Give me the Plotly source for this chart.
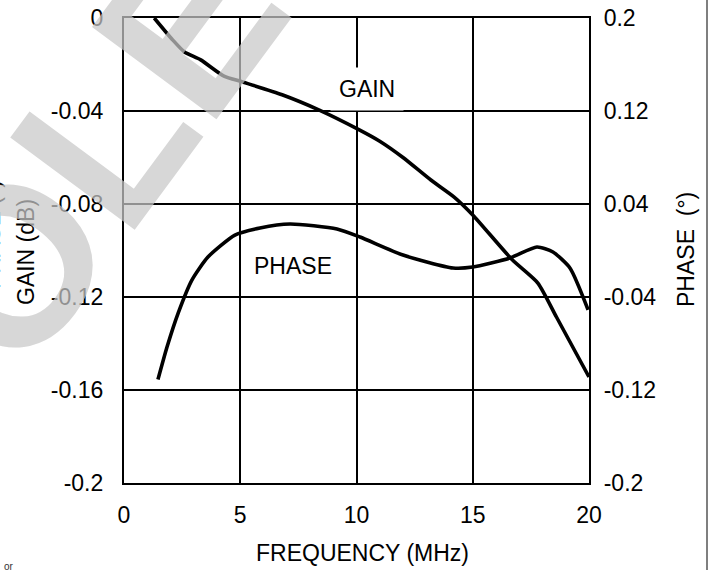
import plotly.graph_objects as go

# ---- data ----
freq_gain = [1.3, 2.1, 2.6, 3.3, 4.3, 5.1, 6.8, 8.4, 10.1, 11.0, 12.0, 13.2, 14.2, 15.0, 16.7, 17.8, 18.6, 20.0]
gain_db = [0.0, -0.0095, -0.0146, -0.018, -0.025, -0.0275, -0.033, -0.0396, -0.048, -0.053, -0.060,
           -0.0697, -0.077, -0.0847, -0.104, -0.114, -0.1286, -0.1544]

freq_phase = [1.46, 1.85, 2.33, 2.92, 3.61, 4.77, 5.85, 7.14, 9.16, 10.15, 12.0, 14.15, 15.0, 16.6,
              17.76, 18.45, 19.18, 19.96]
phase_deg = [-0.111, -0.083, -0.0538, -0.0254, -0.0056, 0.0133, 0.0194, 0.0228, 0.0185, 0.0116, -0.0039,
             -0.015, -0.0142, -0.0065, 0.003, -0.0013, -0.015, -0.051]

x_ticks = [0, 5, 10, 15, 20]
gain_ticks = [0, -0.04, -0.08, -0.12, -0.16, -0.2]
gain_tick_text = ["0", "-0.04", "-0.08", "-0.12", "-0.16", "-0.2"]
phase_ticks = [0.2, 0.12, 0.04, -0.04, -0.12, -0.2]
phase_tick_text = ["0.2", "0.12", "0.04", "-0.04", "-0.12", "-0.2"]

FONT = "Liberation Sans, Arial, sans-serif"
FS = 23

# plot area in pixels
L, R, T, B = 124, 589, 18, 483
W, H = 708, 570


def px(xp):
    return (xp - L) / (R - L)


def py(yp):
    return (B - yp) / (B - T)


fig = go.Figure()
fig.add_trace(go.Scatter(x=freq_gain, y=gain_db, mode="lines",
                         line=dict(color="black", width=3.6, shape="spline", smoothing=0.6),
                         showlegend=False, hoverinfo="skip"))
fig.add_trace(go.Scatter(x=freq_phase, y=phase_deg, mode="lines", yaxis="y2",
                         line=dict(color="black", width=3.6, shape="spline", smoothing=0.6),
                         showlegend=False, hoverinfo="skip"))

axis_common = dict(showline=True, linecolor="black", linewidth=2.2, zeroline=False, automargin=False,
                   tickfont=dict(family=FONT, size=FS, color="black"))

fig.update_layout(
    width=W, height=H,
    margin=dict(l=L, r=W - R, t=T, b=H - B, pad=0, autoexpand=False),
    paper_bgcolor="white", plot_bgcolor="white",
    font=dict(family=FONT, size=FS, color="black"),
    xaxis=dict(range=[0, 20], tickvals=x_ticks, ticktext=[str(v) for v in x_ticks],
               showgrid=True, gridcolor="black", gridwidth=1.8, mirror=True,
               ticks="", ticklabelstandoff=10, **axis_common),
    yaxis=dict(range=[-0.2, 0], tickvals=gain_ticks, ticktext=gain_tick_text,
               showgrid=True, gridcolor="black", gridwidth=1.8, mirror=True,
               ticks="", ticklabelstandoff=14, **axis_common),
    yaxis2=dict(range=[-0.2, 0.2], tickvals=phase_ticks, ticktext=phase_tick_text,
                overlaying="y", side="right", showgrid=False,
                ticks="", ticklabelstandoff=8, **axis_common),
)

ann = []
# axis titles
ann.append(dict(text="FREQUENCY (MHz)", xref="paper", yref="paper", x=px(362), y=py(553),
                xanchor="center", yanchor="middle", showarrow=False, font=dict(size=FS)))
ann.append(dict(text="GAIN (dB)", xref="paper", yref="paper", x=px(26), y=py(252), textangle=-90,
                xanchor="center", yanchor="middle", showarrow=False, font=dict(size=FS)))
ann.append(dict(text="PHASE  (°)", xref="paper", yref="paper", x=px(686), y=py(250), textangle=-90,
                xanchor="center", yanchor="middle", showarrow=False, font=dict(size=FS)))
# clipped ghost title at far left
ann.append(dict(text="PHASE (°)", xref="paper", yref="paper", x=px(7), y=py(235), textangle=-90,
                xanchor="right", yanchor="middle", showarrow=False, font=dict(size=FS)))
# curve labels
ann.append(dict(text="GAIN", x=10.45, y=-0.0305, xref="x", yref="y", showarrow=False,
                bgcolor="white", borderpad=8, font=dict(size=FS)))
ann.append(dict(text="PHASE", x=7.25, y=-0.0133, xref="x", yref="y2", showarrow=False,
                font=dict(size=FS)))
# tiny clipped text bottom-left
ann.append(dict(text="or", xref="paper", yref="paper", x=px(2), y=py(566), xanchor="left",
                yanchor="middle", showarrow=False, font=dict(size=10, color="#333")))
# watermark
ann.append(dict(text="OBSOLETE", xref="paper", yref="paper", x=px(36.5), y=py(230.7), textangle=-53.5,
                xanchor="center", yanchor="middle", showarrow=False, opacity=0.72,
                font=dict(size=225, color="rgb(200,200,200)", family=FONT, weight=900)))
fig.update_layout(annotations=ann)

fig.add_shape(type="line", xref="paper", yref="paper", x0=px(707), x1=px(707), y0=py(0), y1=py(570),
              line=dict(color="#555", width=1.5))

fig.write_html("out.html")
